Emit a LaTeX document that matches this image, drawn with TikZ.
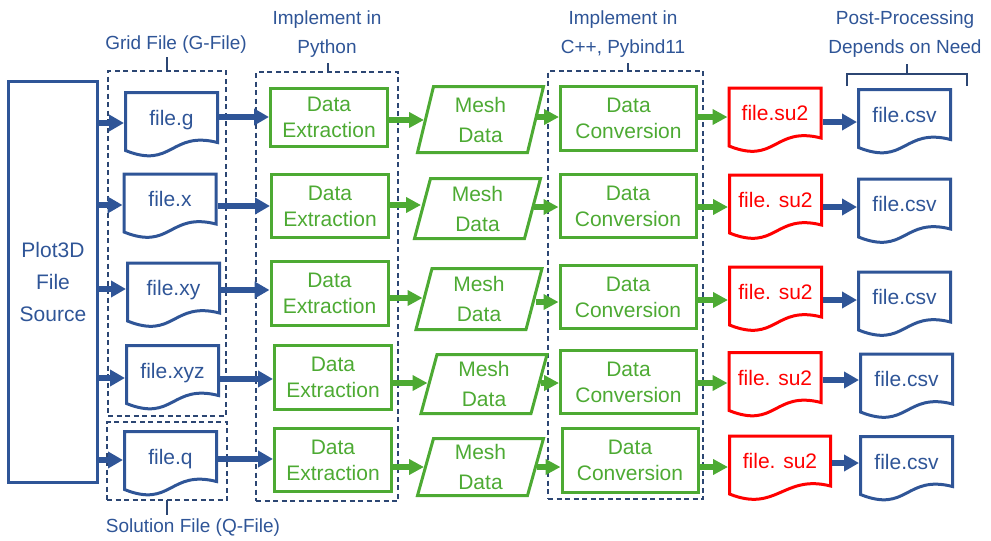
\documentclass[tikz,border=0pt]{standalone}
\usepackage{fontspec}
\setmainfont{Liberation Sans}
\usetikzlibrary{arrows.meta}
\definecolor{myblue}{RGB}{47,85,151}
\definecolor{mygreen}{RGB}{77,170,51}
\definecolor{myred}{RGB}{255,0,0}
\definecolor{dashcol}{RGB}{44,70,115}
\newcommand\fsz[2]{\fontsize{#1pt}{#2pt}\selectfont}
\begin{document}
\begin{tikzpicture}[x=1pt,y=-1pt,
  every node/.style={inner sep=0pt, outer sep=0pt},
  srcbox/.style={draw=myblue, line width=3pt, text=myblue, align=center, font=\fsz{21}{32}, minimum width=89pt, minimum height=401pt},
  procbox/.style={draw=mygreen, line width=3pt, text=mygreen, align=center, font=\fsz{21}{26}},
  docnode/.style={minimum height=63pt, font=\fsz{21}{25}, text height=15pt, text depth=13pt},
  meshnode/.style={minimum width=110pt, text=mygreen, align=center, font=\fsz{21}{30}},
  docline/.style={draw=#1, line width=3pt},
  meshline/.style={draw=mygreen, line width=3pt},
  barr/.style={draw=myblue, line width=6pt, -{Triangle[length=15pt,width=16pt]}, shorten >=1.5pt, shorten <=1.5pt},
  garr/.style={draw=mygreen, line width=6pt, -{Triangle[length=15pt,width=15pt]}, shorten >=1.5pt, shorten <=1.5pt},
  grp/.style={draw=dashcol, line width=1.3pt, dash pattern=on 5pt off 3.5pt},
  lbl/.style={text=myblue, align=center, font=\fsz{19}{29}},
  tickline/.style={draw=dashcol, line width=1.5pt}
]
\useasboundingbox (0,0) rectangle (991,541);

% group boxes
\node[grp, minimum width=118pt, minimum height=345pt] (gridgrp) at (167,243.5) {};
\node[grp, minimum width=120pt, minimum height=78pt] (solgrp) at (167,461) {};
\node[grp, minimum width=142pt, minimum height=429pt] (pygrp) at (327,286.5) {};
\node[grp, minimum width=155pt, minimum height=428pt] (cppgrp) at (625.5,285) {};

% labels
\node[lbl] (gridlbl) at (176,45) {Grid File (G-File)};
\node[lbl] (sollbl) at (193,528) {Solution File (Q-File)};
\node[lbl] (pylbl) at (327,34.5) {Implement in\\Python};
\node[lbl] (cpplbl) at (623,34) {Implement in\\C++, Pybind11};
\node[lbl] (postlbl) at (905,34) {Post-Processing\\Depends on Need};

% ticks
\coordinate (gt) at (167,57);
\coordinate (st) at (167,515);
\coordinate (pt) at (328,63);
\coordinate (ct) at (628,63);
\draw[tickline] (gridgrp.north -| gt) -- (gt);
\draw[tickline] (solgrp.south -| st) -- (st);
\draw[tickline] (pygrp.north -| pt) -- (pt);
\draw[tickline] (cppgrp.north -| ct) -- (ct);
\coordinate (pb1) at (847,86);
\coordinate (pb2) at (847,74);
\coordinate (pb3) at (967,74);
\coordinate (pb4) at (967,86);
\coordinate (pbm) at (907,74);
\coordinate (pbt) at (907,64);
\draw[tickline, line join=miter] (pb1) -- (pb2) -- (pb3) -- (pb4);
\draw[tickline] (pbm) -- (pbt);

% source
\node[srcbox] (src) at (53,282) {Plot3D\\File\\Source};

% input files
\foreach \n/\cx/\cy/\lab in {f1/171.5/124/file.g, f2/170/205.5/file.x, f3/173.5/294.5/file.xy, f4/172.5/377/file.xyz, f5/170.5/463/file.q}{
  \node[docnode, minimum width=92pt, text=myblue] (\n) at (\cx,\cy) {\lab};
  \draw[docline=myblue] (\n.north west) -- (\n.north east) -- ([yshift=13pt]\n.south east)
     .. controls +(-47,-12) and +(47,19) .. ([yshift=5pt]\n.south west) -- cycle;
}

% data extraction
\foreach \n/\cx/\cy/\h in {d1/329/117.5/58, d2/330/206/63, d3/329.5/293.5/64, d4/333/377.5/64, d5/333/460/63}{
  \node[procbox, minimum width=117pt, minimum height=\h pt] (\n) at (\cx,\cy) {Data\\Extraction};
}

% mesh data
\foreach \n/\cx/\cy/\h in {m1/480.5/119.5/66, m2/477.5/208.5/60, m3/479/299/61, m4/484/384/59, m5/480.5/467/57}{
  \node[meshnode, minimum height=\h pt] (\n) at (\cx,\cy) {Mesh\\Data};
  \draw[meshline] ([xshift=8pt]\n.north west) -- ([xshift=8pt]\n.north east) -- ([xshift=-8pt]\n.south east) -- ([xshift=-8pt]\n.south west) -- cycle;
}

% data conversion
\foreach \n/\cx/\cy/\h in {k1/628.5/118.5/64, k2/628/206/63, k3/628/297/63, k4/628.5/382/63, k5/630/460.5/64}{
  \node[procbox, minimum width=136pt, minimum height=\h pt] (\n) at (\cx,\cy) {Data\\Conversion};
}

% su2 files
\foreach \n/\cx/\cy/\w/\lab in {s1/775/119.5/92/file.su2, s2/775.5/206.5/92/file. su2, s3/775.5/298.5/92/file. su2, s4/775/384/92/file. su2, s5/780/467.5/101/file. su2}{
  \node[docnode, minimum width=\w pt, text=myred] (\n) at (\cx,\cy) {\lab};
  \draw[docline=myred] (\n.north west) -- (\n.north east) -- ([yshift=13pt]\n.south east)
     .. controls +(-47,-12) and +(47,19) .. ([yshift=5pt]\n.south west) -- cycle;
}

% csv files
\foreach \n/\cx/\cy in {c1/904.5/121, c2/904.5/210.5, c3/904.5/303.5, c4/906.5/385.5, c5/906.5/468}{
  \node[docnode, minimum width=92pt, text=myblue] (\n) at (\cx,\cy) {file.csv};
  \draw[docline=myblue] (\n.north west) -- (\n.north east) -- ([yshift=13pt]\n.south east)
     .. controls +(-47,-12) and +(47,19) .. ([yshift=5pt]\n.south west) -- cycle;
}

% arrows
\foreach \r/\a/\b/\c/\d/\e/\f in {1/123/117/120/117/117/122, 2/205/206/205/207/207/207, 3/289/290/298/302/300/300, 4/378/379/383/383/383/380, 5/460/459/467/467/467/463}{
  \draw[barr] (src.east |- 0,\a) -- (f\r.west |- 0,\a);
  \draw[barr] (f\r.east |- 0,\b) -- (d\r.west |- 0,\b);
  \draw[garr] (d\r.east |- 0,\c) -- (m\r.west |- 0,\c);
  \draw[garr] (m\r.east |- 0,\d) -- (k\r.west |- 0,\d);
  \draw[garr] (k\r.east |- 0,\e) -- (s\r.west |- 0,\e);
  \draw[barr] (s\r.east |- 0,\f) -- (c\r.west |- 0,\f);
}
\end{tikzpicture}
\end{document}
